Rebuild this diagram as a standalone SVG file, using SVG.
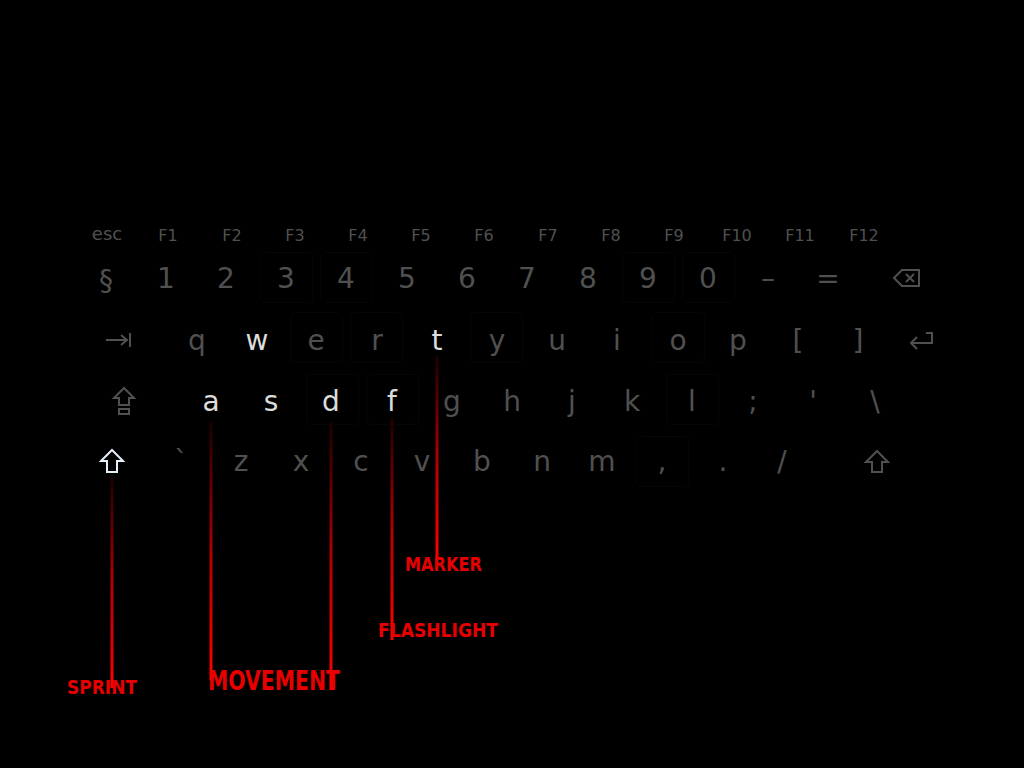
<svg xmlns="http://www.w3.org/2000/svg" width="1024" height="768" viewBox="0 0 1024 768">
<defs>
<style>
.k{font-family:"DejaVu Sans","Liberation Sans",sans-serif;font-size:28px;fill:#505050;text-anchor:middle}
.on{fill:#dcdcdc}
.f{font-family:"DejaVu Sans","Liberation Sans",sans-serif;font-size:16px;fill:#505050;text-anchor:middle}
.esc{font-size:18px}
.box{fill:none;stroke:#060606;stroke-width:1}
.ic{fill:none;stroke:#505050;stroke-width:2}
.lbl{font-family:"DejaVu Sans Condensed","DejaVu Sans",sans-serif;font-weight:bold;fill:#e80000;font-size:19px}
.big{font-size:26px}
.ln{fill:url(#red)}
</style>
<linearGradient id="red" x1="0" y1="0" x2="0" y2="1">
<stop offset="0" stop-color="#1a0000"/>
<stop offset="0.5" stop-color="#b00000"/>
<stop offset="1" stop-color="#ff0000"/>
</linearGradient>
</defs>
<rect width="1024" height="768" fill="#000"/>

<g id="keyboxes">
<rect class="box" x="306.5" y="374.5" width="52" height="50" rx="4"/>
<rect class="box" x="366.5" y="374.5" width="52" height="50" rx="4"/>
<rect class="box" x="290.5" y="312.5" width="52" height="50" rx="4"/>
<rect class="box" x="350.5" y="312.5" width="52" height="50" rx="4"/>
<rect class="box" x="470.5" y="312.5" width="52" height="50" rx="4"/>
<rect class="box" x="652.5" y="312.5" width="52" height="50" rx="4"/>
<rect class="box" x="260.5" y="252.5" width="52" height="50" rx="4"/>
<rect class="box" x="320.5" y="252.5" width="52" height="50" rx="4"/>
<rect class="box" x="622.5" y="252.5" width="52" height="50" rx="4"/>
<rect class="box" x="682.5" y="252.5" width="52" height="50" rx="4"/>
<rect class="box" x="666.5" y="374.5" width="52" height="50" rx="4"/>
<rect class="box" x="636.5" y="436.5" width="52" height="50" rx="4"/>
</g>

<g id="frow">
<text class="f esc" x="107" y="240">esc</text>
<text class="f" x="168" y="241">F1</text>
<text class="f" x="232" y="241">F2</text>
<text class="f" x="295" y="241">F3</text>
<text class="f" x="358" y="241">F4</text>
<text class="f" x="421" y="241">F5</text>
<text class="f" x="484" y="241">F6</text>
<text class="f" x="548" y="241">F7</text>
<text class="f" x="611" y="241">F8</text>
<text class="f" x="674" y="241">F9</text>
<text class="f" x="737" y="241">F10</text>
<text class="f" x="800" y="241">F11</text>
<text class="f" x="864" y="241">F12</text>
</g>

<g id="numrow">
<text class="k" x="106" y="290">§</text>
<text class="k" x="166" y="288">1</text>
<text class="k" x="226" y="288">2</text>
<text class="k" x="286" y="288">3</text>
<text class="k" x="346" y="288">4</text>
<text class="k" x="407" y="288">5</text>
<text class="k" x="467" y="288">6</text>
<text class="k" x="527" y="288">7</text>
<text class="k" x="588" y="288">8</text>
<text class="k" x="648" y="288">9</text>
<text class="k" x="708" y="288">0</text>
<text class="k" x="768" y="288">–</text>
<text class="k" x="828" y="288">=</text>
<g id="key-backspace"><path class="ic" d="M894 278 L902 270 H919 V286 H902 Z M906 274 L914 282 M914 274 L906 282"/></g>
</g>

<g id="qrow">
<g id="key-tab"><path class="ic" d="M106 340 H127 M121 335 L127 340 L121 345 M130 333 V347"/></g>
<text class="k" x="197" y="350">q</text>
<text class="k on" x="257" y="350">w</text>
<text class="k" x="316" y="350">e</text>
<text class="k" x="377" y="350">r</text>
<text class="k on" x="437" y="350">t</text>
<text class="k" x="497" y="350">y</text>
<text class="k" x="557" y="350">u</text>
<text class="k" x="617" y="350">i</text>
<text class="k" x="678" y="350">o</text>
<text class="k" x="738" y="350">p</text>
<text class="k" x="798" y="350">[</text>
<text class="k" x="858" y="350">]</text>
<g id="key-return"><path class="ic" d="M911 343 H932 V333 H926 M917 337 L911 343 L917 349"/></g>
</g>

<g id="arow">
<g id="key-caps"><path class="ic" d="M124 388 L134 398 H129 V405 H119 V398 H114 Z M119 409 H129 V414 H119 Z"/></g>
<text class="k on" x="211" y="411">a</text>
<text class="k on" x="271" y="411">s</text>
<text class="k on" x="331" y="411">d</text>
<text class="k on" x="392" y="411">f</text>
<text class="k" x="452" y="411">g</text>
<text class="k" x="512" y="411">h</text>
<text class="k" x="572" y="411">j</text>
<text class="k" x="632" y="411">k</text>
<text class="k" x="692" y="411">l</text>
<text class="k" x="753" y="411">;</text>
<text class="k" x="813" y="411">'</text>
<text class="k" x="875" y="411">\</text>
</g>

<g id="zrow">
<g id="key-lshift"><path d="M112 450 L123 461 H117 V472 H107 V461 H101 Z" fill="none" stroke="#e8eef8" stroke-width="2"/></g>
<text class="k" x="181" y="471">`</text>
<text class="k" x="241" y="471">z</text>
<text class="k" x="301" y="471">x</text>
<text class="k" x="361" y="471">c</text>
<text class="k" x="422" y="471">v</text>
<text class="k" x="482" y="471">b</text>
<text class="k" x="542" y="471">n</text>
<text class="k" x="602" y="471">m</text>
<text class="k" x="662" y="471">,</text>
<text class="k" x="723" y="471">.</text>
<text class="k" x="782" y="471">/</text>
<g id="key-rshift"><path class="ic" d="M877 451 L888 462 H882 V472 H872 V462 H866 Z"/></g>
</g>

<g id="connectors">
<rect class="ln" x="110.5" y="476" width="3" height="212"/>
<rect class="ln" x="209.5" y="422" width="3" height="258"/>
<rect class="ln" x="329.5" y="422" width="3" height="268"/>
<rect class="ln" x="390.5" y="418" width="3" height="222"/>
<rect class="ln" x="435.5" y="356" width="3" height="204"/>
</g>

<g id="labels">
<text class="lbl" x="405" y="571" textLength="77" lengthAdjust="spacingAndGlyphs">MARKER</text>
<text class="lbl" x="378" y="637" textLength="120" lengthAdjust="spacingAndGlyphs">FLASHLIGHT</text>
<text class="lbl" x="67" y="694" textLength="70" lengthAdjust="spacingAndGlyphs">SPRINT</text>
<text class="lbl big" x="208" y="690" textLength="132" lengthAdjust="spacingAndGlyphs">MOVEMENT</text>
</g>
</svg>
